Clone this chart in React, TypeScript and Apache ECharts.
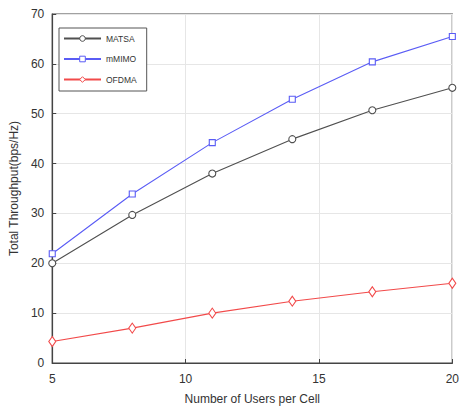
import React, { useEffect, useRef } from "react";
import * as echarts from "echarts";

const users = [5, 8, 11, 14, 17, 20];
const matsa = [20.0, 29.7, 38.0, 44.9, 50.7, 55.2];
const mmimo = [21.9, 33.9, 44.2, 52.9, 60.4, 65.5];
const ofdma = [4.3, 7.0, 10.0, 12.4, 14.3, 16.0];

const pairs = (ys: number[]) => users.map((x, i) => [x, ys[i]]);

const cMatsa = "#505050";
const cMimo = "#5a5cf5";
const cOfdma = "#f24a4a";

export default function App() {
  const ref = useRef<HTMLDivElement>(null);
  useEffect(() => {
    if (!ref.current) return;
    const chart = echarts.init(ref.current, undefined, { renderer: "svg" });
    const font = "Arial, 'Liberation Sans', sans-serif";
    const axisLine = { show: true, lineStyle: { color: "#444", width: 1.2 } };
    chart.setOption({
      animation: false,
      backgroundColor: "#fff",
      textStyle: { fontFamily: font },
      grid: {
        left: 48, right: 8, top: 14, bottom: 49,
        show: true, borderColor: "#444", borderWidth: 1.2,
      },
      legend: {
        left: 59, top: 28, orient: "vertical",
        itemWidth: 37, itemHeight: 7, itemGap: 11.5,
        padding: [6, 10, 7, 4],
        borderColor: "#555", borderWidth: 1, backgroundColor: "#fff",
        textStyle: { fontSize: 8.5, color: "#333", fontFamily: font },
        data: [
          { name: "MATSA", itemStyle: { color: "#fff", borderColor: cMatsa, borderWidth: 1 } },
          { name: "mMIMO", itemStyle: { color: "#fff", borderColor: cMimo, borderWidth: 1 } },
          { name: "OFDMA", itemStyle: { color: "#fff", borderColor: cOfdma, borderWidth: 1 } },
        ],
      },
      xAxis: {
        type: "value", min: 5, max: 20, interval: 5,
        axisLine, axisTick: { inside: true, length: 4, lineStyle: { color: "#444" } },
        axisLabel: { fontSize: 12, color: "#333", margin: 10 },
        splitLine: { show: true, lineStyle: { color: "#e6e6e6", width: 1 } },
        name: "Number of Users per Cell", nameLocation: "middle", nameGap: 30,
        nameTextStyle: { fontSize: 12, color: "#333" },
      },
      yAxis: {
        type: "value", min: 0, max: 70, interval: 10,
        axisLine, axisTick: { show: true, inside: true, length: 4, lineStyle: { color: "#444" } },
        axisLabel: { fontSize: 12, color: "#333", margin: 8 },
        splitLine: { show: true, lineStyle: { color: "#e6e6e6", width: 1 } },
        name: "Total Throughput(bps/Hz)", nameLocation: "middle", nameGap: 28,
        nameTextStyle: { fontSize: 12, color: "#333" },
      },
      series: [
        {
          name: "MATSA", type: "line", data: pairs(matsa),
          symbol: "circle", symbolSize: 7,
          lineStyle: { color: cMatsa, width: 1.1 },
          itemStyle: { color: "#fff", borderColor: cMatsa, borderWidth: 1.1 },
        },
        {
          name: "mMIMO", type: "line", data: pairs(mmimo),
          symbol: "rect", symbolSize: 6,
          lineStyle: { color: cMimo, width: 1.1 },
          itemStyle: { color: "#fff", borderColor: cMimo, borderWidth: 1.1 },
        },
        {
          name: "OFDMA", type: "line", data: pairs(ofdma),
          symbol: "diamond", symbolSize: [7, 10],
          lineStyle: { color: cOfdma, width: 1.1 },
          itemStyle: { color: "#fff", borderColor: cOfdma, borderWidth: 1.1 },
        },
      ],
    });
    return () => chart.dispose();
  }, []);
  return <div ref={ref} style={{ position: "absolute", left: 0, top: 0, width: 462, height: 412 }} />;
}
